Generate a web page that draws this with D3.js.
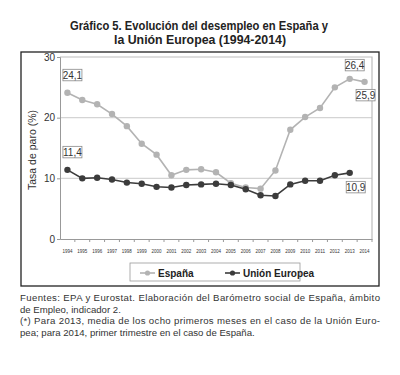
<!DOCTYPE html>
<html>
<head>
<meta charset="utf-8">
<title>Desempleo</title>
<script src="https://cdn.jsdelivr.net/npm/d3@7"></script>
<style>
  body { margin: 0; background: #fff; }
  text { font-family: "Liberation Sans", Arial, sans-serif; }
</style>
</head>
<body>
<script>
    var years = d3.range(1994, 2015).map(String);
    var espana = [24.1, 22.9, 22.2, 20.6, 18.6, 15.7, 13.9, 10.5, 11.4, 11.5, 11.0, 9.2, 8.5, 8.3, 11.3, 18.0, 20.1, 21.6, 25.0, 26.4, 25.9];
    var ue = [11.4, 10.0, 10.1, 9.8, 9.3, 9.1, 8.6, 8.5, 8.9, 9.0, 9.1, 8.9, 8.2, 7.2, 7.1, 9.0, 9.6, 9.6, 10.5, 10.9];
    var yTicks = [0, 10, 20, 30];
    var labels = [
        {serie: "es", i: 0, text: "24,1", dy: -18},
        {serie: "ue", i: 0, text: "11,4", dy: -18},
        {serie: "es", i: 19, text: "26,4", dy: -14},
        {serie: "es", i: 20, text: "25,9", dx: -4, dy: 13},
        {serie: "ue", i: 19, text: "10,9", dx: 1, dy: 14}
    ];

    var width = 400, height = 375;
    var plotLeft = 60, plotRight = 372, plotTop = 57, plotBottom = 239;

    var svg = d3.select("body").append("svg")
        .attr("width", width).attr("height", height);

    var x = d3.scaleBand().domain(years).range([plotLeft, plotRight]);
    var y = d3.scaleLinear().domain([0, 30]).range([plotBottom, plotTop]);
    var cx = function(i){ return x(years[i]) + x.bandwidth() / 2; };

    // titulo
    var title = svg.append("g").attr("font-weight", "bold").attr("font-size", 13)
        .attr("text-anchor", "middle").attr("fill", "#222");
    title.append("text").attr("x", 199).attr("y", 30).attr("textLength", 258)
        .attr("lengthAdjust", "spacingAndGlyphs").text("Gráfico 5. Evolución del desempleo en España y");
    title.append("text").attr("x", 200).attr("y", 44).attr("textLength", 172)
        .attr("lengthAdjust", "spacingAndGlyphs").text("la Unión Europea (1994-2014)");

    // marco
    svg.append("rect").attr("x", 21).attr("y", 52).attr("width", 358).attr("height", 234)
        .attr("fill", "none").attr("stroke", "#222").attr("stroke-width", 1.3);

    // rejilla
    svg.selectAll("line.grid").data([10, 20]).enter().append("line")
        .attr("x1", plotLeft).attr("x2", plotRight)
        .attr("y1", function(d){ return y(d); }).attr("y2", function(d){ return y(d); })
        .attr("stroke", "#d4d4d4").attr("stroke-width", 1.2);
    svg.append("path")
        .attr("d", "M" + plotLeft + "," + plotTop + "H" + plotRight + "V" + plotBottom)
        .attr("fill", "none").attr("stroke", "#bdbdbd").attr("stroke-width", 1.2);

    // eje y
    var yAxis = svg.append("g").attr("transform", "translate(" + plotLeft + ",0)")
        .call(d3.axisLeft(y).tickValues(yTicks).tickSize(3).tickPadding(2));
    yAxis.select(".domain").attr("stroke", "#999");
    yAxis.selectAll(".tick line").attr("stroke", "#999");
    yAxis.selectAll("text").attr("font-size", 10).attr("fill", "#333")
        .attr("font-family", "Liberation Sans, Arial, sans-serif");

    // eje x
    var xAxis = svg.append("g").attr("transform", "translate(0," + plotBottom + ")")
        .call(d3.axisBottom(x).tickSize(0).tickPadding(10));
    xAxis.select(".domain").attr("stroke", "#999");
    xAxis.selectAll("text").attr("font-size", 6).attr("fill", "#333")
        .attr("font-family", "Liberation Sans Narrow, Liberation Sans, sans-serif")
        .attr("textLength", 10).attr("lengthAdjust", "spacingAndGlyphs");
    xAxis.selectAll("line.sep").data(years.slice(1).concat(["end"])).enter().append("line")
        .attr("class", "sep")
        .attr("x1", function(d){ return d === "end" ? plotRight : x(d); })
        .attr("x2", function(d){ return d === "end" ? plotRight : x(d); })
        .attr("y1", 0).attr("y2", 3).attr("stroke", "#999");

    svg.append("text").attr("transform", "translate(36,150) rotate(-90)")
        .attr("text-anchor", "middle").attr("font-size", 10.5).attr("fill", "#333")
        .text("Tasa de paro (%)");

    // series
    var line = d3.line()
        .x(function(d, i){ return cx(i); })
        .y(function(d){ return y(d); });

    var series = [
        {key: "es", data: espana, color: "#b3b3b3"},
        {key: "ue", data: ue, color: "#3c3c3c"}
    ];
    series.forEach(function(s){
        svg.append("path").datum(s.data).attr("d", line)
            .attr("fill", "none").attr("stroke", s.color).attr("stroke-width", 1.6);
        svg.selectAll("circle." + s.key).data(s.data).enter().append("circle")
            .attr("class", s.key)
            .attr("cx", function(d, i){ return cx(i); })
            .attr("cy", function(d){ return y(d); })
            .attr("r", 3.2).attr("fill", s.color);
    });

    // etiquetas de valor
    labels.forEach(function(l){
        var v = (l.serie === "es" ? espana : ue)[l.i];
        var px = cx(l.i) + (l.dx || 0) + 5, py = y(v) + l.dy;
        svg.append("rect").attr("x", px - 9.5).attr("y", py - 5.5).attr("width", 19).attr("height", 11.5)
            .attr("fill", "#fff").attr("stroke", "#888").attr("stroke-width", 0.8);
        svg.append("text").attr("x", px).attr("y", py + 4).attr("text-anchor", "middle")
            .attr("font-size", 10).attr("fill", "#333").text(l.text);
    });

    // leyenda
    var leg = svg.append("g");
    leg.append("rect").attr("x", 130).attr("y", 263).attr("width", 170).attr("height", 18)
        .attr("fill", "#fff").attr("stroke", "#999").attr("stroke-width", 0.8);
    var items = [
        {name: "España", color: "#b3b3b3", x: 140},
        {name: "Unión Europea", color: "#3c3c3c", x: 225}
    ];
    items.forEach(function(it){
        leg.append("line").attr("x1", it.x).attr("x2", it.x + 15).attr("y1", 273).attr("y2", 273)
            .attr("stroke", it.color).attr("stroke-width", 1.6);
        leg.append("circle").attr("cx", it.x + 7.5).attr("cy", 273).attr("r", 2.6).attr("fill", it.color);
        leg.append("text").attr("x", it.x + 18).attr("y", 277).attr("font-size", 10)
            .attr("font-weight", "bold").attr("fill", "#222").text(it.name);
    });

    // notas
    var notes = [
        {t: "Fuentes: EPA y Eurostat. Elaboración del Barómetro social de España, ámbito", j: true},
        {t: "de Empleo, indicador 2.", j: false},
        {t: "(*) Para 2013, media de los ocho primeros meses en el caso de la Unión Euro-", j: true},
        {t: "pea; para 2014, primer trimestre en el caso de España.", j: false}
    ];
    notes.forEach(function(n, i){
        var t = svg.append("text").attr("x", 20).attr("y", 301 + i * 11.5)
            .attr("font-size", 9.6).attr("fill", "#333").text(n.t);
        if (n.j) t.attr("textLength", 360).attr("lengthAdjust", "spacing");
    });
</script>
</body>
</html>
